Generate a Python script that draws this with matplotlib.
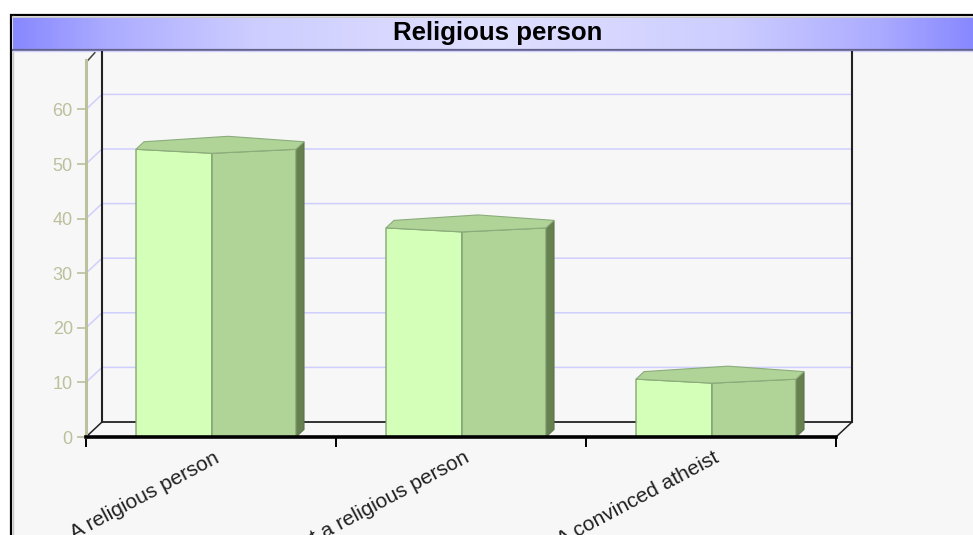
"""Religious person: fake-3D bar chart inside a framed panel."""

import matplotlib
matplotlib.use("Agg")
import matplotlib.pyplot as plt
import numpy as np
from matplotlib.patches import Rectangle

categories = ["A religious person", "Not a religious person", "A convinced atheist"]
values = [52.7, 38.3, 10.6]
y_ticks = [0, 10, 20, 30, 40, 50, 60]
title = "Religious person"

W, H = 973, 535
PX_X = 250.0   # pixels per category
PX_Y = 5.46    # pixels per y unit
DX, DY = 16 / PX_X, 15 / PX_Y  # depth of the box

plt.rcParams["font.family"] = ["Liberation Sans", "DejaVu Sans"]
fig = plt.figure(figsize=(W / 100, H / 100), dpi=100, facecolor="white")

# panel frame and title bar, in pixel coordinates
bg = fig.add_axes([0, 0, 1, 1])
bg.axis("off")
bg.add_patch(Rectangle((10.5, 15), W, H, fc="#f7f7f7", ec="black", lw=1.6))
bg.plot([12.5, 12.5], [16, H], color="#c8c8c8", lw=1)
bg.plot([12, W], [16.5, 16.5], color="#c8c8c8", lw=1)
stops = np.array([0, 0.1, 0.25, 0.5, 0.75, 0.9, 1])
shades = np.array([[136, 136, 255], [172, 172, 255], [205, 205, 255], [224, 224, 255],
                   [205, 205, 255], [172, 172, 255], [136, 136, 255]])
xs = np.linspace(0, 1, 480)
grad = np.stack([np.interp(xs, stops, shades[:, i]) for i in range(3)], axis=-1)[None] / 255
bg.imshow(grad, extent=(13, W, 49, 18), aspect="auto", zorder=2)
bg.set_xlim(0, W)
bg.set_ylim(H, 0)
bg.plot([13, W], [49.5, 49.5], color="#62628a", lw=1.6, zorder=3)
bg.plot([13, W], [51, 51], color="#d0d0ff", lw=1, zorder=3)
bg.text(498, 33, title, ha="center", va="center", fontsize=18.6, fontweight="bold", color="black", zorder=4)

# plot axes: front plane of the box
ax = fig.add_axes([86 / W, 1 - 437 / H, 750 / W, 385 / H])
ax.set_xlim(-0.5, 2.5)
ax.set_ylim(0, 385 / PX_Y)
ax.patch.set_visible(False)
for side in ("top", "right"):
    ax.spines[side].set_visible(False)
ax.spines["left"].set_color("#bcc09c")
ax.spines["left"].set_linewidth(2.2)
ax.spines["left"].set_bounds(0, 69)
ax.spines["bottom"].set_color("black")
ax.spines["bottom"].set_linewidth(2.6)
ax.spines["bottom"].set_zorder(5)

top = ax.get_ylim()[1]
x0, x1 = ax.get_xlim()

# back wall and floor
for v in y_ticks[1:]:
    ax.plot([x0, x0 + DX, x1 + DX], [v, v + DY, v + DY], color="#cfcfff", lw=1.1, clip_on=False, zorder=1)
ax.plot([x0 + DX, x0 + DX], [DY, top], color="#222222", lw=1.5, clip_on=False, zorder=1)
ax.plot([x1 + DX, x1 + DX], [DY, top], color="#222222", lw=1.5, clip_on=False, zorder=1)
ax.plot([x0 + DX, x1 + DX], [DY, DY], color="#222222", lw=1.3, clip_on=False, zorder=1)
ax.plot([x0, x0 + DX], [0, DY], color="#222222", lw=1.1, clip_on=False, zorder=1)
ax.plot([x1, x1 + DX], [0, DY], color="#222222", lw=1.1, clip_on=False, zorder=1)
ax.plot([x0 + 0.008, x0 + DX * 0.55], [69, 69 + DY * 0.5], color="#444444", lw=1.1, clip_on=False, zorder=1)

# bars
EDGE = "#7c9c6c"
for i, v in enumerate(values):
    left, right = i - 0.30, i + 0.34
    mid = i + 0.004
    drop = 4 / PX_Y
    ax.fill([right, right + DX / 2, right + DX / 2, right],
            [0, DY / 2, v + DY / 2, v], fc="#668050", ec="#5c7448", lw=0.8, clip_on=False, zorder=3)
    ax.fill([left, mid, mid, left], [0, 0, v - drop, v], fc="#d4ffb8", ec=EDGE, lw=0.9, clip_on=False, zorder=3)
    ax.fill([mid, right, right, mid], [0, 0, v, v - drop], fc="#b0d498", ec=EDGE, lw=0.9, clip_on=False, zorder=3)
    ax.fill([left, mid, right, right + DX / 2, mid + DX, left + DX / 2],
            [v, v - drop, v, v + DY / 2, v + DY / 2 + 1.0, v + DY / 2],
            fc="#b0d498", ec="#8cac7c", lw=0.8, clip_on=False, zorder=3)

# ticks: major x ticks sit on category boundaries, labels on minor ticks
ax.set_yticks(y_ticks)
ax.tick_params(axis="y", length=6.5, width=1.2, color="#bcc09c", labelcolor="#bcc09c", labelsize=13, pad=3)
ax.set_xticks(np.arange(-0.5, 3, 1))
ax.set_xticklabels([])
ax.tick_params(axis="x", which="major", length=7.5, width=1.4, color="black")
ax.set_xticks(np.arange(3) + 0.01, minor=True)
ax.set_xticklabels(categories, minor=True, rotation=28, ha="right", va="top", rotation_mode="anchor",
                   fontsize=15, color="#202020")
ax.tick_params(axis="x", which="minor", length=0, pad=8)

fig.savefig("out.png", dpi=100)
